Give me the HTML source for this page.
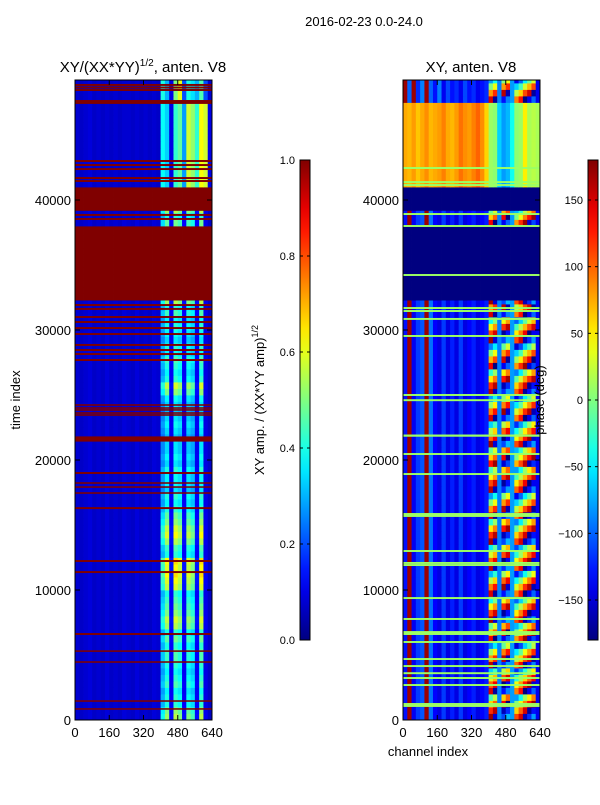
<!DOCTYPE html>
<html><head><meta charset="utf-8">
<style>
html,body{margin:0;padding:0;background:#fff;}
body{width:600px;height:800px;overflow:hidden;font-family:"Liberation Sans",sans-serif;}
text{font-family:"Liberation Sans",sans-serif;}
</style></head>
<body>
<svg id="fig" width="600" height="800" viewBox="0 0 600 800" xmlns="http://www.w3.org/2000/svg">
  <defs>
    <linearGradient id="jetv" x1="0" y1="1" x2="0" y2="0"></linearGradient>
  </defs>
  <text x="364" y="26" font-size="13" text-anchor="middle">2016-02-23 0.0-24.0</text>
  <text x="143" y="72" font-size="15" text-anchor="middle">XY/(XX*YY)<tspan dy="-6" font-size="10">1/2</tspan><tspan dy="6">, anten. V8</tspan></text>
  <text x="471" y="72" font-size="15" text-anchor="middle">XY, anten. V8</text>
  <g id="leftHeat"></g>
  <g id="rightHeat"></g>
  <rect x="75" y="80" width="137" height="640" fill="none" stroke="#000" stroke-width="1"/>
  <rect x="403" y="80" width="137" height="640" fill="none" stroke="#000" stroke-width="1"/>
  <g id="axes"></g>
  <text transform="translate(20,400) rotate(-90)" font-size="13" text-anchor="middle">time index</text>
  <text x="428" y="756" font-size="13" text-anchor="middle">channel index</text>
  <rect x="300" y="160" width="10" height="480" fill="url(#jetv)" stroke="#000" stroke-width="1"/>
  <rect x="588" y="160" width="10" height="480" fill="url(#jetv)" stroke="#000" stroke-width="1"/>
  <text transform="translate(264,400) rotate(-90)" font-size="13" text-anchor="middle">XY amp. / (XX*YY amp)<tspan dy="-6" font-size="9">1/2</tspan></text>
  <text transform="translate(544,400) rotate(-90)" font-size="13" text-anchor="middle">phase (deg)</text>
  <g id="cbticks"></g>
</svg>
<script>
// ---- data ----
const tMax = 49230;
const binSize = 500;
const bandStart = [0, 32300, 38000, 39200, 41000, 47500];
const bandEnd   = [32300, 38000, 39200, 41000, 47500, 49230];
const bandKind  = ['lower', 'flag', 'lower', 'flag', 'upper', 'top'];
// amplitude channel profiles (32 columns of 20 channels)
const ampLower = [0.08,0.07,0.08,0.09,0.07,0.08,0.07,0.09,0.07,0.08,0.07,0.09,0.08,0.07,0.09,0.07,0.08,0.07,0.09,0.08,
                  0.3,0.4,0.12,0.42,0.38,0.12,0.38,0.34,0.12,0.42,0.1,0.07];
const ampUpper = [0.08,0.07,0.08,0.09,0.07,0.08,0.07,0.08,0.07,0.08,0.07,0.08,0.08,0.07,0.08,0.07,0.08,0.07,0.08,0.07,
                  0.38,0.33,0.1,0.42,0.47,0.28,0.58,0.52,0.42,0.62,0.58,0.1];
const ampTop   = [0.08,0.07,0.08,0.09,0.07,0.08,0.07,0.08,0.07,0.08,0.07,0.08,0.08,0.07,0.08,0.07,0.08,0.07,0.08,0.07,
                  0.4,0.3,0.1,0.5,0.6,0.2,0.4,0.35,0.3,0.45,0.2,0.08];
const rowGain = [1.4,1.3,1.0,1.0,0.9,1.1,1.0,0.9,1.0,1.1,1.1,1.0,1.2,1.0,1.4,1.5,1.3,1.2,1.1,1.0,
                 1.5,1.6,1.7,1.6,1.7,1.0,1.1,1.4,1.6,1.5,1.3,1.2,1.0,0.9,1.0,0.8,0.9,0.9,1.0,0.8,
                 0.9,0.8,0.8,0.7,0.8,0.9,0.8,0.7,0.8,0.9,1.3,1.5,1.0,0.9,1.0,1.1,0.9,1.0,0.8,0.9,
                 1.0,0.9,1.1,1.0];
// phase channel profiles (degrees)
const phLower = [-130,170,-140,-115,-105,170,-95,-135,-145,-115,-145,-125,-145,-115,-145,-135,-125,-145,-135,-125];
const phUpper = [75,70,80,65,75,85,70,75,80,90,75,70,80,95,85,80,90,100,85,60,
                 10,5,-60,-80,-70,-40,5,10,50,15,20,15];
const phTop   = [170,-100,170,-120,-90,170,-100,-130,-90,-140,-110,-130,-120,-140,-110,-130,-120,-140,-130,-120];
const phMixOffset = [0,40,200,80,120,200,-60,-20,30,70,110,0];
const phMixFixed  = [null,null,-90,null,null,-80,null,null,null,null,null,-140];
const rowPhase = [170,120,60,-20,150,100,30,-60,160,80,10,-90,140,60,-10,170,110,40,-40,150,
                  90,20,-70,160,100,30,-50,170,120,50,-30,150,80,0,-80,160,110,40,-20,130,
                  60,-10,170,100,20,-60,150,90,10,-80,160,120,50,-30,140,70,0,-90,170,110,
                  40,-40,150,80];
const ampLines = [48850,48650,48460,47540,43000,42690,42380,41690,41460,38850,38540,
                  31920,31620,31000,30615,30150,29690,28850,28460,28150,27690,
                  24230,24000,23850,23615,23460,21615,19000,18230,17920,17460,16300,12230,11380,6615,5300,4460,1460,850];
const ampLineWidth = [150,150,150,300,150,150,150,150,150,150,150,
                      150,150,150,150,150,150,150,150,150,150,
                      120,120,120,120,120,400,150,120,120,120,150,150,150,150,120,120,120,120];
const phLines = [42460,41380,41150,38920,38000,34230,31690,31460,30850,29540,
                 25000,24600,21900,21850,20460,18920,15770,13000,12080,11920,9380,7770,6690,6000,4690,4150,3600,3230,2690,1230,1080];
const phLineWidth = [150,150,150,150,150,150,150,150,150,150,
                     150,150,120,120,150,150,300,150,150,150,150,150,300,150,150,150,150,150,150,150,150];
const ampTicks = [0,0.2,0.4,0.6,0.8,1.0];
const phTicks = [-150,-100,-50,0,50,100,150];
const timeTicks = [0,10000,20000,30000,40000];
const chanTicks = [0,160,320,480,640];

// ---- helpers ----
const NS = 'http://www.w3.org/2000/svg';
function jet(v){
  v = Math.max(0, Math.min(1, v));
  const r = Math.max(0, Math.min(1, 1.5 - Math.abs(4*v - 3)));
  const g = Math.max(0, Math.min(1, 1.5 - Math.abs(4*v - 2)));
  const b = Math.max(0, Math.min(1, 1.5 - Math.abs(4*v - 1)));
  return 'rgb(' + Math.round(r*255) + ',' + Math.round(g*255) + ',' + Math.round(b*255) + ')';
}
function wrap(p){ return ((p + 180) % 360 + 360) % 360 - 180; }
function phColor(p){ return jet((wrap(p) + 180) / 360); }
function yOf(t){ return 720 - t * 640 / tMax; }
function xOf(x0, ch){ return x0 + ch * 137 / 640; }
function mk(tag, attrs, parent){
  const e = document.createElementNS(NS, tag);
  for (const k in attrs) e.setAttribute(k, attrs[k]);
  parent.appendChild(e);
  return e;
}

// gradient
const grad = document.getElementById('jetv');
for (let i = 0; i <= 20; i++){
  const s = document.createElementNS(NS, 'stop');
  s.setAttribute('offset', (i/20*100) + '%');
  s.setAttribute('stop-color', jet(i/20));
  grad.appendChild(s);
}

function ampValue(kind, bin, col){
  if (kind === 'flag') return 1.0;
  let prof = kind === 'upper' ? ampUpper : (kind === 'top' ? ampTop : ampLower);
  const p = prof[col];
  if (col < 20) return p;
  const g = kind === 'lower' ? rowGain[bin % rowGain.length] : 1.0;
  return Math.min(1, 0.08 + (p - 0.08) * g);
}
function phValue(kind, bin, col){
  if (kind === 'flag') return -180;
  if (kind === 'upper') return phUpper[col];
  if (col < 20) return kind === 'top' ? phTop[col] : phLower[col];
  const k = col - 20;
  if (phMixFixed[k] !== null) return phMixFixed[k];
  return rowPhase[bin % rowPhase.length] + phMixOffset[k];
}

const L = document.getElementById('leftHeat');
const R = document.getElementById('rightHeat');
for (let b = 0; b < bandStart.length; b++){
  const kind = bandKind[b];
  for (let t = bandStart[b]; t < bandEnd[b]; t += binSize){
    const t2 = Math.min(t + binSize, bandEnd[b]);
    const bin = Math.floor(t / binSize);
    const y1 = yOf(t2), h = yOf(t) - yOf(t2) + 0.4;
    for (let c = 0; c < 32; c++){
      const x1L = xOf(75, c*20), wL = xOf(75, (c+1)*20) - x1L + 0.4;
      const a = mk('rect', {x:x1L, y:y1, width:wL, height:h, fill:jet(ampValue(kind, bin, c))}, L);
      
      
      const x1R = xOf(403, c*20);
      const p = mk('rect', {x:x1R, y:y1, width:wL, height:h, fill:phColor(phValue(kind, bin, c))}, R);
      
      
    }
  }
}
ampLines.forEach((t, i) => {
  const w = ampLineWidth[i];
  const r = mk('rect', {x:75, y:yOf(t + w/2), width:137, height:Math.max(1, yOf(t - w/2) - yOf(t + w/2)), fill:jet(1)}, L);
  
  
});
phLines.forEach((t, i) => {
  const w = phLineWidth[i];
  const r = mk('rect', {x:403, y:yOf(t + w/2), width:137, height:Math.max(1, yOf(t - w/2) - yOf(t + w/2)), fill:phColor(10)}, R);
  
  
});

// axes ticks
const ax = document.getElementById('axes');
[75, 403].forEach(x0 => {
  timeTicks.forEach(t => {
    const y = yOf(t);
    mk('line', {x1:x0, x2:x0+5, y1:y, y2:y, stroke:'#000'}, ax);
    mk('line', {x1:x0+137, x2:x0+132, y1:y, y2:y, stroke:'#000'}, ax);
    const tx = mk('text', {x:x0-4, y:y+5, 'font-size':13, 'text-anchor':'end'}, ax);
    tx.textContent = String(t);
    
    
  });
  chanTicks.forEach(c => {
    const x = xOf(x0, c);
    mk('line', {x1:x, x2:x, y1:720, y2:715, stroke:'#000'}, ax);
    mk('line', {x1:x, x2:x, y1:80, y2:85, stroke:'#000'}, ax);
    const tx = mk('text', {x:x, y:737, 'font-size':13, 'text-anchor':'middle'}, ax);
    tx.textContent = String(c);
    
    
  });
});

// colorbar ticks
const cb = document.getElementById('cbticks');
ampTicks.forEach(v => {
  const y = 640 - v * 480;
  mk('line', {x1:300, x2:303, y1:y, y2:y, stroke:'#000'}, cb);
  mk('line', {x1:310, x2:307, y1:y, y2:y, stroke:'#000'}, cb);
  const tx = mk('text', {x:295, y:y+4, 'font-size':11, 'text-anchor':'end'}, cb);
  tx.textContent = v.toFixed(1);
  
  
});
phTicks.forEach(v => {
  const y = 400 - v / 360 * 480;
  mk('line', {x1:588, x2:591, y1:y, y2:y, stroke:'#000'}, cb);
  mk('line', {x1:598, x2:595, y1:y, y2:y, stroke:'#000'}, cb);
  const tx = mk('text', {x:583, y:y+4, 'font-size':11, 'text-anchor':'end'}, cb);
  tx.textContent = v < 0 ? '\u2212' + Math.abs(v) : String(v);
  
  
});
</script>
</body></html>
